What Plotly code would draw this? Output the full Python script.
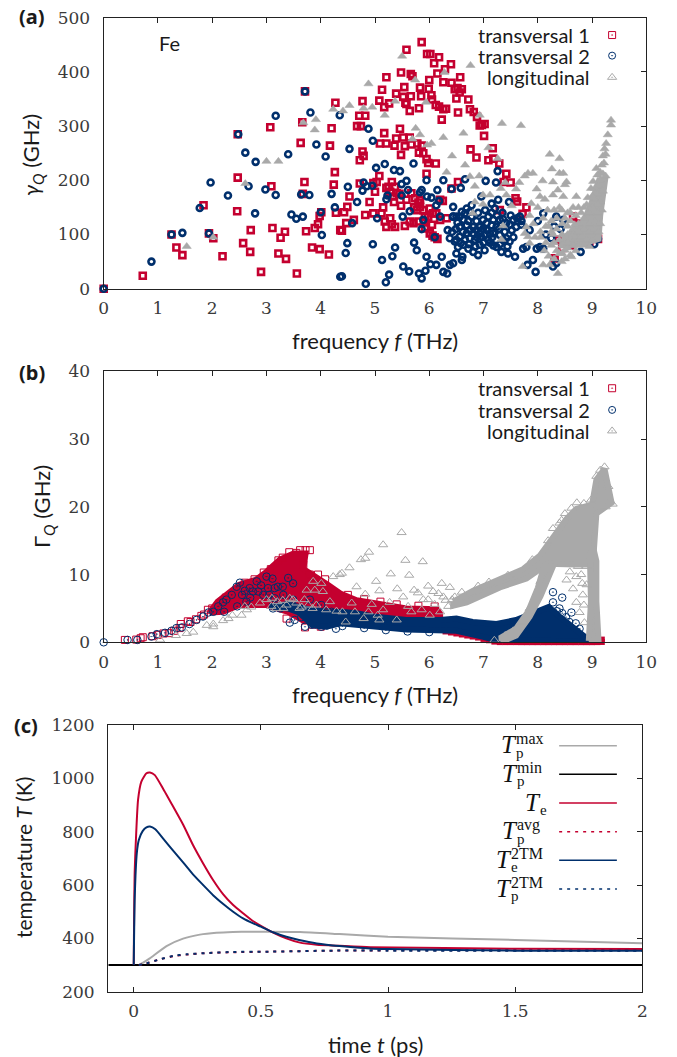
import plotly.graph_objects as go

RED = "#C4002F"
NAVY = "#002F6C"
GRAY = "#A9A9A9"
INK = "#222222"
SERIF = "Liberation Serif"
TICK_SERIF = "DejaVu Serif"
SANS = "Lato"

# ---------- panel (a): frequency (THz), gamma_Q (GHz) ----------
T1_A = [(0,0),(.72,24),(1.25,100),(1.34,76),(1.45,62),(1.84,154),(1.94,102),(2.02,93),(2.19,60),(2.47,285),(2.47,205),(2.46,143),
(2.71,108),(2.57,84),(2.70,68),(2.90,31),(3.07,298),(3.09,189),(3.11,112),(3.26,94),(3.34,105),(3.22,65),(3.36,55),(3.56,28),
(3.66,307),(3.63,269),(3.70,197),(3.67,175),(3.73,106),(3.89,112),(3.95,119),(3.98,134),(4.01,141),(3.84,76),(3.98,73),(4.15,63),
(3.71,364),(4.27,343),(4.20,296),(4.17,264),(4.26,215),(4.24,192),(4.28,140),(4.36,108),
(5.86,455),(5.58,441),(5.96,433),(6.02,433),(6.18,427),(6.09,416),(6.40,414),(6.29,405),(6.15,397),(5.48,399),(5.66,396),(5.69,392),
(5.21,390),(6.00,385),(6.26,381),(6.41,380),(6.57,390),(5.13,367),(5.54,372),(5.83,371),(5.99,369),(5.39,360),(6.52,370),(6.47,368),
(6.60,368),(6.56,362),(6.50,351),(5.85,355),(5.66,355),(6.04,357),(5.52,354),(4.77,346),(5.08,347),(6.05,349),(5.26,342),(5.56,343),
(5.17,335),(5.58,341),(5.64,328),(5.81,333),(6.12,339),(6.18,336),(6.26,331),(6.31,332),(6.53,325),(6.72,349),(6.75,331),(6.82,326),
(6.88,317),(6.23,312),(4.71,319),(4.82,319),(4.67,300),(4.74,300),(6.93,301),(7.02,304),(6.97,302),(7.01,282),(5.17,287),(5.46,295),
(5.39,277),(5.52,279),(5.64,279),(5.09,268),(5.21,268),(5.36,264),(5.55,263),(5.67,266),(5.78,268),(5.86,264),(5.81,251),(5.89,250),
(5.48,247),(4.77,253),(4.79,245),(4.72,237),(6.76,257),(6.87,242),(7.09,237),(7.17,259),(7.18,240),(7.29,231),(5.95,239),(5.98,232),
(6.12,231),(5.95,212),(5.08,208),(5.03,197),(7.42,212),(7.37,197),(7.50,196),(4.72,194),(5.00,179),(5.31,197),(5.25,188),(5.37,188),
(5.28,179),(5.40,176),(5.21,186),(5.34,170),(4.53,170),(4.43,141),(4.49,151),(4.90,160),(4.82,136),(4.97,139),(5.15,150),(5.12,139),
(5.28,130),(5.48,153),(5.58,164),(5.67,176),(5.80,159),(5.83,151),(5.89,145),(5.98,133),(6.07,139),(6.20,164),(6.25,162),(4.47,121),
(4.61,127),(4.39,107),(5.18,124),(5.21,114),(5.31,119),(5.37,114),(5.55,116),(5.71,121),(5.80,124),(5.92,111),(6.01,102),(6.10,95),
(6.53,197),(6.41,185),(6.32,130),(5.77,145),(5.74,167),(5.83,164),(6.01,148),(6.13,139),(5.92,133),(6.20,127),(5.64,124),(4.97,195),
(7.59,167),(7.62,161),(7.30,145),(7.72,138),(7.79,150),(8.31,56),(8.65,133),(9.11,92),(8.38,90),(8.6,80),(8.75,120),(8.95,85),(8.45,75),
(6.15,92),(6.06,98),(5.45,175),(5.35,160),(5.72,150),(5.9,125),(6.05,118)]

T2_A = [(0,0),(.88,50),(1.25,100),(1.45,103),(1.77,149),(1.97,196),(1.94,102),(2.29,172),(2.48,285),(2.61,251),(2.67,189),(2.80,234),
(2.79,139),(2.98,183),(3.17,319),(3.17,173),(3.40,248),(3.46,137),(3.55,129),(3.67,133),(3.64,174),(3.79,173),(3.71,364),(3.81,325),
(3.92,266),(4.09,244),(4.00,141),(4.02,99),(4.20,175),(4.26,150),(4.35,320),(4.36,22),
(4.88,295),(4.96,273),(4.53,258),(5.71,231),(5.18,230),(5.02,223),(5.35,219),(5.46,217),(7.26,217),(7.04,199),(7.23,196),(5.95,200),
(6.26,200),(6.66,202),(5.58,199),(5.49,193),(4.50,188),(4.79,196),(4.85,189),(4.95,190),(4.77,181),(6.15,182),(6.41,184),(6.58,186),
(5.23,172),(5.21,165),(5.49,172),(5.61,182),(5.83,178),(5.86,182),(5.96,170),(6.04,168),(6.18,162),(6.13,154),(4.67,160),(5.64,143),
(5.51,133),(5.04,130),(4.58,121),(5.89,127),(5.86,110),(6.20,133),(6.44,151),(6.44,133),(6.69,148),(6.78,154),(6.96,170),(7.15,157),
(7.27,164),(7.47,160),(6.34,108),(6.10,95),(4.49,84),(4.46,66),(4.96,82),(5.37,76),(5.32,60),(5.72,85),(5.77,71),(5.13,53),(5.95,59),
(6.23,59),(6.13,44),(6.02,45),(5.52,41),(5.63,32),(5.26,26),(5.20,12),(4.83,9),(4.39,23),(5.81,28),(5.93,33),(5.86,19),(6.26,31),
(6.33,28),(6.38,44),(6.44,47),(6.50,65),(6.61,59),(6.60,53),
(6.38,93),(6.47,87),(6.56,96),(6.66,90),(6.75,93),(6.53,77),(6.72,74),(6.81,68),(6.90,62),(7.02,71),(6.84,90),(6.93,102),(7.06,108),
(7.18,102),(6.99,127),(7.09,133),(7.21,148),(7.24,77),(7.33,68),(7.45,65),(7.58,59),(7.36,90),(7.48,87),(7.55,127),(7.42,121),(7.30,127),
(7.18,127),(7.06,121),(6.93,114),(6.81,114),(6.69,117),(6.63,127),(6.50,133),(6.56,114),(6.87,108),(7.15,117),(7.39,105),(7.52,108),
(7.67,133),(7.60,114),(6.44,133),(6.56,133),(6.66,139),(6.78,133),(7.24,114),(6.96,96),(7.09,90),(6.81,102),(6.69,102),(6.50,90),
(6.63,81),(6.93,81),(7.12,102),(7.30,99),(7.42,93),(6.99,110),(7.12,85),(6.87,125),(6.72,125),(7.25,135),(7.36,128),(7.48,118),
(6.49,110),(6.62,105),(6.75,108),(6.88,95),(7.02,100),(7.16,95),(7.28,110),(6.52,122),(6.60,142),(6.75,142),(6.90,140),(7.03,145),(7.15,140),
(6.42,105),(6.58,84),(6.73,82),(6.85,78),(7.00,85),(7.18,80),(7.30,82),(7.44,78),(7.55,95),(7.62,130),(7.70,118),(7.50,135),(7.35,140),
(8.04,77),(8.10,74),(8.25,93),(8.34,133),(8.47,127),(8.10,139),(8.34,47),(8.28,41),(8.79,68),(9.04,82),(9.11,92),(7.73,74),(7.81,44),
(7.91,53),(7.96,31),(7.79,77),(7.98,74),(7.85,108),(8.0,125),(8.15,100),(8.3,115),(8.42,110),(7.7,125),(8.55,95)]

L_A = [(1.53,78),(2.02,95),(2.61,194),(3.00,235),(3.22,235),(3.68,306),(3.91,312),(3.89,293),(4.23,331),
(5.50,429),(6.76,412),(4.88,378),(5.74,385),(6.28,399),(4.53,338),(4.41,328),(4.79,333),(4.95,335),(5.18,320),(5.37,346),(5.94,344),
(6.93,320),(7.34,305),(7.69,301),(6.63,287),(5.75,296),(5.83,284),(6.26,279),(5.69,276),(5.96,265),(6.04,268),(7.09,260),(6.42,245),
(6.66,228),(7.26,240),(6.32,215),(6.75,207),(6.92,208),(6.84,189),(7.40,196),(7.32,185),(7.82,213),(7.91,213),(7.76,208),(8.22,248),
(8.40,240),(8.26,221),(8.40,213),(8.47,213),(7.66,196),(7.60,184),(8.09,199),(8.28,197),(8.53,197),(8.50,192),(7.98,184),(8.04,170),
(7.88,157),(8.28,173),(8.37,182),(8.47,170),(8.71,170),(8.44,145),(6.99,173),(7.12,173),(6.84,160),(6.99,156),(7.42,173),(7.52,153),
(6.80,139),(7.36,116),(7.33,91),(7.72,41),(7.79,114),(7.82,96),(7.85,84),(7.76,102),(8.10,44),(8.22,44),(8.37,28),(8.44,50),(8.62,59),
(8.50,71),(9.35,311),(9.35,302),(9.29,284),(9.26,268),(9.23,258),(9.25,248),(9.20,245),(9.18,228),(9.22,232),(9.15,215),(9.20,212),
(9.25,208),(9.15,200),(9.10,210),(9.12,190),(9.05,185),(9.10,175),(9.20,180),(9.15,160),(9.05,165),(9.00,170),(9.10,155),(9.18,145),
(9.00,150),(8.90,155),(8.95,140),(9.10,140),(8.85,130),(9.05,125),(8.95,120),(8.80,140),(8.70,135),(8.60,125),(8.55,115),(8.45,120),
(8.35,130),(8.25,125),(8.15,115),(8.05,105),(7.95,95),(8.25,105),(8.35,110),(8.45,100),(8.55,100),(8.65,110),(8.75,120),(8.85,110),
(8.95,105),(9.05,110),(8.30,85),(8.40,90),(8.50,85),(8.60,90),(8.70,95),(8.80,95),(8.90,90),(9.00,90),(8.35,70),(8.45,80),(8.55,75),
(8.65,80),(8.75,80),(8.85,80),(8.95,78),(8.25,80),(8.15,85),(8.05,95),(8.60,62),(8.50,55),(8.40,65),(8.70,70),(9.12,105),(9.15,120),
(8.75,150),(8.85,150),(8.65,150),(8.55,140),(8.92,168),(8.98,185),(9.02,198),(9.08,222),
(8.12,70),(8.20,60),(8.30,55),(8.28,100),(8.20,115),(8.10,130),(8.18,145),(8.30,145),(8.40,150),(8.50,130),(8.60,140),(8.65,100),(8.55,85),
(8.45,65),(8.75,105),(8.68,118),(7.92,120),(7.85,135),(8.00,150),(8.13,165)]
L_A_CORE_F = [8.45,8.65,8.85,8.98,9.13,9.24,9.15,9.12,8.78,8.45]
L_A_CORE_G = [92,105,125,155,200,200,135,92,82,80]

# ---------- panel (b): frequency (THz), Gamma_Q (GHz) ----------
RED_BAND_F = [1.95,2.1,2.5,2.8,3.0,3.25,3.5,3.72,3.68,3.92,4.13,4.36,4.66,4.97,5.27,5.58,6.14,6.2,6.2,5.5,4.97,4.36,4.0,3.7,3.4,3.0,2.5,2.2]
RED_BAND_G = [4.4,6.0,8.5,9.2,10.4,12.2,13.1,13.1,10.8,9.7,8.5,7.2,6.2,5.8,5.3,5.0,4.9,4.2,2.6,2.5,2.8,3.3,3.1,3.1,4.5,5.5,5.5,4.5]
NAVY_BAND_F = [3.05,3.4,3.7,4.1,4.36,4.66,4.97,5.58,6.2,6.5,6.8,7.24,7.6,7.9,8.2,8.4,8.7,8.95,9.12,8.6,7.5,7.24,7.0,6.5,5.58,4.97,4.36,4.1,3.85,3.75,3.6,3.4,3.1]
NAVY_BAND_G = [5.3,5.6,5.0,4.4,4.5,4.3,3.8,3.3,3.3,3.5,3.0,2.7,3.3,4.3,5.2,3.8,1.8,.3,.1,.1,.1,.3,.8,1.7,1.9,2.3,2.8,2.3,2.5,3.3,4.4,5.0,5.2]
GRAY_BAND1_F = [6.44,6.81,7.3,7.73,8.04,8.34,8.53,8.71,9.0,9.08,9.23,9.36,9.08,9.02,8.96,8.7,8.4,8.18,7.79,7.3,6.69,6.44]
GRAY_BAND1_G = [6.0,7.6,9.3,10.8,12.8,16.0,18.2,19.7,20.3,24.0,25.6,20.6,19.0,12.0,11.5,11.5,11.5,11.6,9.4,8.1,5.9,5.4]
GRAY_BAND2_F = [8.12,8.28,8.05,7.85,7.6,7.4,7.3,7.6,7.82,8.0]
GRAY_BAND2_G = [11.3,11.2,6.8,3.8,1.0,.3,.6,2.0,4.5,8.0]
GRAY_BAND3_F = [8.94,9.12,9.08,9.08,9.02,8.96,8.98]
GRAY_BAND3_G = [.2,.2,6.0,12.0,14.0,13.0,6.0]

T1_B = [(.39,.35),(.6,.4),(.68,.6),(.72,.75),(.9,.9),(1.0,1.1),(1.1,1.3),(1.2,1.35),(1.3,1.7),(1.4,2.1),(1.42,2.7),(1.55,3.1),(1.6,3),
(1.7,3.4),(1.8,3.9),(1.85,4.1),(1.92,4.8),(2.0,5),(2.1,5.1),(2.2,5.9),(2.25,6.6),(2.3,6.6),(2.4,7.1),(2.5,7.3),(2.55,7.9),(2.6,8.8),
(2.78,9.3),(2.95,10.3),(3.08,10.8),(3.22,12.1),(3.3,12.5),(3.42,13.3),(3.55,13.2),(3.62,13.6),(3.72,13.6),(3.8,13.6),(3.68,11.5),
(3.8,10),(3.95,10),(4.08,9.3),(3.37,3.5),(3.71,2.2),(3.85,2.6),(4.0,2.3),(4.5,7),(4.8,6.4),(5.1,6),(5.4,5.6),(5.8,5.4),(6.1,5.3)]
T1_B_EDGE = [(6.3,1.6),(6.4,1.45),(6.5,1.3),(6.6,1.15),(6.7,1.0),(6.8,.85),(6.9,.7),(7.0,.5),(7.1,.3),
(7.2,.1),(7.3,.03),(7.4,.03),(7.5,.03),(7.6,.03),(7.7,.02),(7.8,.02),(7.9,.02),(8.0,.02),(8.1,.02),(8.2,.02),(8.3,.02),(8.4,.02),(8.5,.02),
(8.6,.02),(8.7,.02),(8.8,.02),(8.9,.02),(9.0,.02),(9.1,.03),(9.18,.05),(9.18,.4)]

T2_B = [(0,0),(.44,.35),(.62,.35),(.88,.85),(.98,1.2),(1.13,1.4),(1.25,1.7),(1.34,2.1),(1.44,2.2),(1.58,2.7),(1.71,3.3),(1.83,3.8),(1.93,4.4),
(2.02,4.5),(2.11,5.3),(2.2,5.9),(2.26,6.3),(2.22,4.5),(2.36,7),(2.45,8.2),(2.51,8.8),(2.46,5.3),(2.63,6),(2.69,8),(2.82,9),(2.75,7.5),
(2.94,7),(3,9.7),(3.03,8),(3.11,9.4),(3.21,8.2),(3.4,9.5),(3.49,8.7),(3.15,6.5),(3.31,7),(3.49,6.3),(3.12,5),(3.43,2.9),(3.52,3.3),
(3.64,3.7),(3.71,2.3),(3.83,2.6),(4.01,2.3),(3.83,3.8),(4.01,5.5),(3.61,5),(3.8,6.3),(3.9,3.3),(4.12,2.5),(4.28,2),(4.15,3.5),(4.2,4.5),
(4.35,3.3),(4.1,4.5),(3.95,4.5),(3.25,5),(3.38,5.5),(2.55,7),(2.85,7.5),(3.05,7),(2.6,7.6),(2.7,6.6),(2.9,8.4),(3.15,8),(3.3,8.2),
(8.28,7.4),(8.45,6.6),(8.28,5.9),(8.4,5),(8.62,4.4),(8.58,3),(8.77,2),(8.45,4.3),(8.52,3.7),(8.35,4.6),(8.7,2.8),(4.4,2.4),(4.8,2.1),(5.2,1.8),(5.6,1.6),(6.0,1.5)]

L_B = [(1.04,.35),(1.33,1),(1.53,1.3),(1.65,1.5),(1.9,2.5),(2.02,2.3),(2.02,2.7),(2.2,3.2),(2.3,3.5),(2.37,4),(2.54,4),(2.64,4.8),(2.6,5.3),
(2.72,5.2),(2.88,5.8),(3,6.3),(3.09,5.3),(3.18,5),(3.31,5),(3.43,6.5),(3.55,5.8),(3.7,6.3),(3.74,7.7),(3.86,9),(4.01,8.7),(3.89,7.7),
(4.04,7.5),(4.17,6),(4.23,9.7),(4.35,10),(3.92,5.5),(3.77,5.5),(4.1,4.8),(4.29,4.6),(3.37,5.5),(3.49,6.3),(3.61,5),(3.2,6),(3.1,6.5),(3.3,6.2),(3.65,5.2),(3.85,5),
(4.39,10.2),(4.53,11),(4.74,12.2),(4.82,12.4),(4.89,13.3),(5.15,14.4),(5.49,16.2),(5.56,12.1),(5.88,11.9),(5.29,10.1),(5.63,9.9),(5.02,9),
(4.66,8.2),(5.08,7.6),(5.41,7.9),(5.72,7.7),(5.79,7.3),(5.98,8.3),(6.23,8.7),(6.07,7.5),(6.17,7.2),(6.26,6.7),(6.38,8.1),(6.47,6.7),
(4.82,7.1),(5.52,6.7),(5.98,6.3),(5.89,6.3),(4.57,5.8),(4.94,5.6),(5.27,5.9),(5.61,5.3),(5.15,4.8),(4.88,4.5),(4.79,3.5),(5.08,3.3),
(5.4,3.3),(5.67,4.5),(5.86,4.8),(6.01,4),(6.2,4.5),(6.35,5.3),(4.63,4.5),(4.4,4.5),(4.46,3),(5.05,4),(6.3,6.2),(6.1,5.6),(6.42,6.3),
(8.19,15),(8.44,18),(8.59,10.4),(8.53,9.2),(8.71,9.7),(8.82,8.7),(8.83,7),(8.65,7.9),(8.71,5.9),(8.77,4.4),(8.86,2.9),(8.74,11.2),(8.9,11.2),
(8.9,8.5),(8.6,11.5),(8.85,5.5),(8.8,10),
(8.28,16.8),(8.4,17.6),(8.5,19),(8.62,19.8),(8.72,20.6),(8.85,20.5),(8.98,21),(9.08,24.5),(9.15,25.4),(9.23,25.9),(9.3,23),(9.38,20.4),(9.25,20),
(6.6,7.4),(6.9,8.3),(7.1,8.9),(7.45,9.9),(7.9,12.2),(8.15,13.7),(7.2,.3),(7.4,1),(7.55,1.7),(7.7,3),(7.85,5),(8.0,7.4),(8.05,9)]

# ---------- panel (c): time (ps), temperature (K) ----------
T_MAX_T = [.02,.037,.063,.129,.194,.26,.325,.39,.457,.522,.654,.81,1.0,1.5,2.0]
T_MAX = [300,309,325,371,399,414,421,424,425,425,424,416,406,394,382]
T_MIN_T = [-.1,2.0]
T_MIN = [300,300]
T_E_T = [0,.004,.017,.03,.05,.064,.083,.115,.155,.195,.233,.273,.312,.352,.391,.43,.47,.5,.55,.6,.65,.72,.81,.93,1.5,2.0]
T_E = [300,656,919,988,1019,1022,1012,962,894,825,750,681,619,565,525,494,464,447,421,400,385,376,372,367,361,360]
T_AVG_T = [.02,.05,.102,.155,.207,.286,.39,.52,.785,1.0,2.0]
T_AVG = [300,306,321,333,339,345,348,350,354,355,355]
T_2E_T = [0,.004,.012,.02,.035,.05,.064,.085,.115,.155,.195,.233,.273,.312,.352,.391,.43,.47,.5,.55,.6,.65,.72,.81,.93,1.0,1.5,2.0]
T_2E = [300,556,719,769,802,816,819,809,775,729,684,640,600,562,529,500,475,456,444,422,406,394,381,371,362,360,354,354]
T_2P_T = [.02,.05,.102,.155,.207,.286,.39,.52,.785,1.0,2.0]
T_2P = [300,306,321,334,340,345,349,350,354,354,354]

XTICKS_F = list(range(0, 11))
YTICKS_A = list(range(0, 501, 100))
YTICKS_B = list(range(0, 41, 10))
XTICKS_C = [0, .5, 1, 1.5, 2]
XTICKTEXT_C = ["0", "0.5", "1", "1.5", "2"]
YTICKS_C = list(range(200, 1201, 200))

LEG_F = 9.37
LEG_A = [468, 430, 390]
LEG_B = [37.5, 34.3, 31.2]
LEG_T = [1.673, 1.90]
LEG_C = [1122, 1015, 908, 800, 693, 585]

W, H = 677, 1057
fig = go.Figure()

def xs(p): return [a for a, _ in p]
def ys(p): return [b for _, b in p]

def pts(p, color, sym, size, lw, ax, name):
    fig.add_trace(go.Scatter(x=xs(p), y=ys(p), mode="markers", name=name, showlegend=False, cliponaxis=False,
        marker=dict(symbol=sym, size=size, color=color, line=dict(width=lw, color=color)), xaxis="x"+ax, yaxis="y"+ax))

def band(fx, fy, color, ax, name):
    fig.add_trace(go.Scatter(x=fx+fx[:1], y=fy+fy[:1], mode="lines", fill="toself", fillcolor=color, name=name, showlegend=False,
        cliponaxis=False, line=dict(color=color, width=6), xaxis="x"+ax, yaxis="y"+ax))

# panel a
pts(T1_A, RED, "square-open", 6, 2.6, "", "transversal 1")
pts(T2_A, NAVY, "circle-open", 6, 2.6, "", "transversal 2")
band(L_A_CORE_F, L_A_CORE_G, GRAY, "", "longitudinal")
pts(L_A, GRAY, "triangle-up", 8, 0.5, "", "longitudinal")
# panel b
band(RED_BAND_F, RED_BAND_G, RED, "2", "transversal 1")
pts(T1_B, RED, "square-open", 7, 1, "2", "transversal 1")
pts(T1_B_EDGE, RED, "square", 6, 0, "2", "transversal 1")
band(NAVY_BAND_F, NAVY_BAND_G, NAVY, "2", "transversal 2")
pts(T2_B, NAVY, "circle-open-dot", 7.5, 1, "2", "transversal 2")
band(GRAY_BAND1_F, GRAY_BAND1_G, GRAY, "2", "longitudinal")
band(GRAY_BAND2_F, GRAY_BAND2_G, GRAY, "2", "longitudinal")
band(GRAY_BAND3_F, GRAY_BAND3_G, GRAY, "2", "longitudinal")
pts(L_B, GRAY, "triangle-up-open", 8, 1, "2", "longitudinal")
# legend keys a, b
for ax, lv in (("", LEG_A), ("2", LEG_B)):
    pts([(LEG_F, lv[0])], RED, "square-open-dot", 7, 1, ax, "key")
    pts([(LEG_F, lv[1])], NAVY, "circle-open-dot", 7, 1, ax, "key")
    pts([(LEG_F, lv[2])], GRAY, "triangle-up-open-dot", 8, 1, ax, "key")

# panel c
def line(t, v, color, name, dash="solid", w=2, shape="spline"):
    fig.add_trace(go.Scatter(x=t, y=v, mode="lines", name=name, showlegend=False,
        line=dict(color=color, width=w, dash=dash, shape=shape, smoothing=0.5), xaxis="x3", yaxis="y3"))
SHORT = "3px,5px"
line(T_MAX_T, T_MAX, GRAY, "Tp max")
line(T_MIN_T, T_MIN, "#000000", "Tp min", shape="linear")
line(T_E_T, T_E, RED, "Te")
line(T_AVG_T, T_AVG, RED, "Tp avg", SHORT)
line(T_2E_T, T_2E, NAVY, "Te 2TM")
line(T_2P_T, T_2P, NAVY, "Tp 2TM", SHORT)
for v, c, d in zip(LEG_C, [GRAY, "#000000", RED, RED, NAVY, NAVY], ["solid", "solid", "solid", SHORT, "solid", SHORT]):
    line(LEG_T, [v, v], c, "key", d, 1.5, "linear")

def px_x(p): return p / W
def px_y(p): return 1 - p / H

PANELS = [
    ("", 103.7, 646.3, 17.7, 288.7, [0, 10], [0, 500], XTICKS_F, [str(v) for v in XTICKS_F], YTICKS_A, False),
    ("2", 103.7, 646.3, 371.3, 642.3, [0, 10], [0, 40], XTICKS_F, [str(v) for v in XTICKS_F], YTICKS_B, False),
    ("3", 108.3, 642.3, 725, 991.7, [-.1, 2], [200, 1200], XTICKS_C, XTICKTEXT_C, YTICKS_C, True),
]
layout = dict(width=W, height=H, margin=dict(l=0, r=0, t=0, b=0, pad=0, autoexpand=False), paper_bgcolor="white", plot_bgcolor="white",
              showlegend=False, font=dict(family=SERIF, size=21, color=INK))
LINE = dict(showline=True, linecolor=INK, linewidth=1.4, mirror=True, showgrid=False, zeroline=False)
TICKF = dict(family=TICK_SERIF, size=17, color="#3a3a3a")
for i, (suffix, l, r, t, b, xr, yr, xt, xtt, yt, bottom_ticks) in enumerate(PANELS):
    xk, yk = "xaxis" + suffix, "yaxis" + suffix
    layout[xk] = dict(domain=[px_x(l), px_x(r)], range=xr, tickvals=xt, ticktext=xtt, anchor="y"+suffix, tickfont=TICKF,
                      ticks="inside" if bottom_ticks else "", ticklen=5, tickwidth=1, tickcolor=INK, ticklabelstandoff=4, **LINE)
    layout[yk] = dict(domain=[px_y(b), px_y(t)], range=yr, tickvals=yt, anchor="x"+suffix, tickfont=TICKF,
                      ticks="", ticklabelstandoff=9, **LINE)
    # top / right tick-only axes
    n = str(4 + i)
    layout["xaxis" + n] = dict(domain=layout[xk]["domain"], range=xr, tickvals=xt, overlaying="x"+suffix, side="top", anchor="y"+n,
                               ticks="inside", ticklen=5, tickwidth=1, tickcolor=INK, showticklabels=False, showgrid=False, zeroline=False, showline=False)
    layout["yaxis" + n] = dict(domain=layout[yk]["domain"], range=yr, tickvals=yt, overlaying="y"+suffix, side="right", anchor="x"+n,
                               ticks="inside", ticklen=5, tickwidth=1, tickcolor=INK, showticklabels=False, showgrid=False, zeroline=False, showline=False)
    fig.add_trace(go.Scatter(x=[xr[0]], y=[yr[0]], mode="markers", marker=dict(opacity=0, size=1), showlegend=False, hoverinfo="skip", xaxis="x"+n, yaxis="y"+n))

ann = []
def txt(s, x, y, size=20, family=SANS, anchor="center", angle=0, color="#1a1a1a"):
    ann.append(dict(text=s, x=px_x(x), y=px_y(y), xref="paper", yref="paper", showarrow=False, xanchor=anchor, yanchor="middle",
                    font=dict(family=family, size=size, color=color), textangle=angle, borderpad=0, borderwidth=0))

for s, x, y in (("(a)", 32, 17), ("(b)", 32, 372), ("(c)", 26, 725)):
    txt("<b>%s</b>" % s, x, y, 20, "Noto Sans")
txt("Fe", 169, 43, 20)
txt("frequency <i>f</i> (THz)", 375, 341, 22)
txt("frequency <i>f</i> (THz)", 375, 694, 22)
txt("time <i>t</i> (ps)", 375, 1044, 22)
txt("<i>γ</i><sub><i>Q</i></sub> (GHz)", 32, 155, 22, angle=-90)
txt("Γ<sub><i>Q</i></sub> (GHz)", 43, 507, 22, angle=-90)
txt("temperature <i>T</i> (K)", 23, 858, 21, angle=-90)
for row_y in ((35, 56, 77.3), (388.3, 410, 431)):
    for s, y in zip(("transversal 1", "transversal 2", "longitudinal"), row_y):
        txt(s, 590, y, 20, anchor="right")
# stacked sub/superscript labels of panel (c)
LEG_ROWS = [("p", "max", 745.7), ("p", "min", 774.3), ("e", "", 803), ("p", "avg", 831.7), ("e", "2TM", 860.3), ("p", "2TM", 889)]
for sub, sup, y in LEG_ROWS:
    sw = {"max": 30, "min": 29, "": 6, "avg": 29, "2TM": 35}[sup]
    xs0 = 546 - sw
    txt("<i>T</i>", xs0 + 1, y - 1, 25, SERIF, anchor="right", color="#111111")
    txt(sub, xs0, y + 7, 15, SERIF, anchor="left", color="#111111")
    if sup:
        txt(sup, xs0, y - 7, 16, SERIF, anchor="left", color="#111111")
layout["annotations"] = ann
fig.update_layout(**layout)
fig.write_html("out.html", config=dict(displayModeBar=False), post_script="document.body.style.margin='0';document.documentElement.style.overflow='hidden';")
